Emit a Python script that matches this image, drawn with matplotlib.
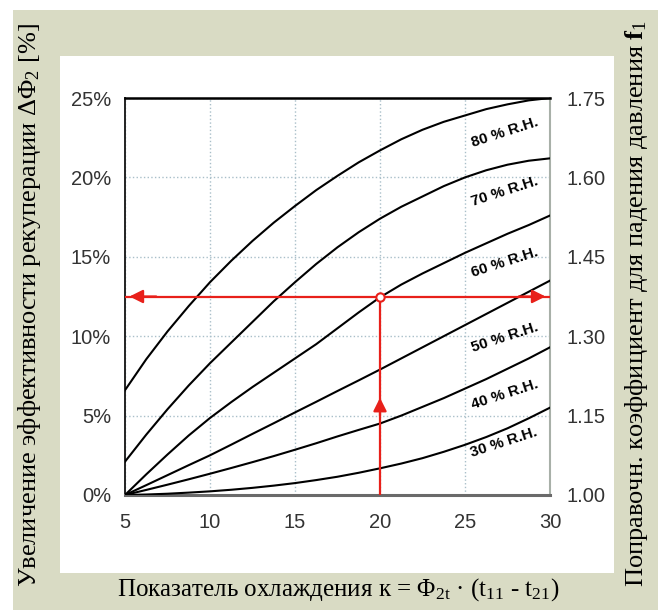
import matplotlib.pyplot as plt
from matplotlib.patches import Rectangle

# data
kappa = [5, 6.25, 7.5, 8.75, 10, 11.25, 12.5, 13.75, 15, 16.25, 17.5,
         18.75, 20, 21.25, 22.5, 23.75, 25, 26.25, 27.5, 28.75, 30]
rh80 = [6.6, 8.55, 10.3, 11.9, 13.4, 14.75, 16.0, 17.15, 18.2, 19.2, 20.1,
        20.95, 21.7, 22.4, 23.0, 23.5, 23.9, 24.3, 24.6, 24.85, 25.0]
rh70 = [2.1, 3.8, 5.4, 6.9, 8.3, 9.6, 10.9, 12.2, 13.4, 14.55, 15.6,
        16.55, 17.4, 18.15, 18.8, 19.45, 20.0, 20.45, 20.8, 21.05, 21.2]
rh60 = [0.0, 1.3, 2.55, 3.75, 4.85, 5.85, 6.8, 7.7, 8.6, 9.5, 10.5,
        11.5, 12.45, 13.25, 13.95, 14.6, 15.25, 15.85, 16.45, 17.0, 17.6]
rh50 = [0.0, 0.62, 1.25, 1.88, 2.5, 3.17, 3.85, 4.52, 5.2, 5.87, 6.55,
        7.22, 7.9, 8.6, 9.3, 10.0, 10.7, 11.4, 12.1, 12.8, 13.5]
rh40 = [0.0, 0.32, 0.65, 0.99, 1.34, 1.7, 2.07, 2.45, 2.85, 3.26, 3.69,
        4.1, 4.5, 5.0, 5.55, 6.1, 6.7, 7.3, 7.95, 8.6, 9.3]
rh30 = [0.0, 0.03, 0.08, 0.15, 0.23, 0.33, 0.45, 0.59, 0.75, 0.94, 1.15,
        1.4, 1.68, 1.98, 2.32, 2.72, 3.16, 3.65, 4.2, 4.83, 5.5]
curves = [rh80, rh70, rh60, rh50, rh40, rh30]
labels = ["80 % R.H.", "70 % R.H.", "60 % R.H.", "50 % R.H.", "40 % R.H.", "30 % R.H."]
label_x = [27.35, 27.35, 27.35, 27.35, 27.35, 27.3]
label_y = [22.8, 19.1, 14.65, 9.9, 6.3, 3.3]

xticks = [5, 10, 15, 20, 25, 30]
yticks = [0, 5, 10, 15, 20, 25]
f1_ticks = [1.00, 1.15, 1.30, 1.45, 1.60, 1.75]

# example reading
ex_x = 20
ex_y = 12.5
ex_arrow_y = 6.3

red = "#e8201a"
beige = "#d9dbc4"

plt.rcParams["mathtext.fontset"] = "custom"
plt.rcParams["mathtext.rm"] = "Liberation Serif"
plt.rcParams["mathtext.it"] = "Liberation Serif:italic"
plt.rcParams["mathtext.bf"] = "Liberation Serif:bold"

fig = plt.figure(figsize=(6.62, 6.10), dpi=100)
fig.patch.set_facecolor("white")
fig.add_artist(Rectangle((13/662, 0), 645/662, 1 - 10/610, transform=fig.transFigure,
                         facecolor=beige, edgecolor="none", zorder=-10))
fig.add_artist(Rectangle((60/662, 1 - 573/610), 554/662, 517/610, transform=fig.transFigure,
                         facecolor="white", edgecolor="none", zorder=-9))

ax = fig.add_axes([125/662, 1 - 495/610, 425/662, 397/610])
ax.set_facecolor("none")

for c in curves:
    ax.plot(kappa, c, color="black", lw=1.5, zorder=3)

for t, lx, ly in zip(labels, label_x, label_y):
    ax.text(lx, ly, t, fontsize=11, fontweight="bold", family="Liberation Sans",
            rotation=18, ha="center", va="center", zorder=4)

# red construction lines
ax.plot([ex_x, ex_x], [0, ex_y], color=red, lw=1.6, zorder=5)
ax.plot([5, 30], [ex_y, ex_y], color=red, lw=1.6, zorder=5)
ax.annotate("", xy=(5.1, ex_y), xytext=(7, ex_y),
            arrowprops=dict(arrowstyle="-|>", color=red, lw=1.6, mutation_scale=20), zorder=6)
ax.annotate("", xy=(29.9, ex_y), xytext=(28, ex_y),
            arrowprops=dict(arrowstyle="-|>", color=red, lw=1.6, mutation_scale=20), zorder=6)
ax.annotate("", xy=(ex_x, ex_arrow_y), xytext=(ex_x, ex_arrow_y - 1.5),
            arrowprops=dict(arrowstyle="-|>", color=red, lw=1.6, mutation_scale=20), zorder=6)
ax.plot([ex_x], [ex_y], marker="o", ms=6, mfc="white", mec=red, mew=1.5, zorder=7)

ax.set_xlim(5, 30)
ax.set_ylim(0, 25)
ax.set_xticks(xticks)
ax.set_yticks(yticks)
ax.set_yticklabels([f"{v}%" for v in yticks])
ax.grid(True, ls=":", color="#a9bfc9", lw=1.0, zorder=0)
ax.tick_params(length=0, labelsize=14.5, labelcolor="#333333")
ax.tick_params(axis="y", pad=10)
ax.tick_params(axis="x", pad=13)
for lab in ax.get_xticklabels() + ax.get_yticklabels():
    lab.set_family("Liberation Sans")

ax.spines["top"].set_color("black")
ax.spines["top"].set_linewidth(1.8)
ax.spines["left"].set_color("#222222")
ax.spines["left"].set_linewidth(1.4)
ax.spines["bottom"].set_color("#6a6a6a")
ax.spines["bottom"].set_linewidth(2.2)
ax.spines["right"].set_color("#a8b0a8")
ax.spines["right"].set_linewidth(1.5)

ax2 = ax.twinx()
ax2.set_ylim(1.00, 1.75)
ax2.set_yticks(f1_ticks)
ax2.set_yticklabels([f"{v:.2f}" for v in f1_ticks])
ax2.tick_params(length=0, labelsize=14.5, labelcolor="#333333", pad=12)
for lab in ax2.get_yticklabels():
    lab.set_family("Liberation Sans")
for s in ax2.spines.values():
    s.set_visible(False)

fig.text(30/662, 1 - 305/610, "Увеличение эффективности рекуперации ΔΦ$_2$ [%]",
         rotation=90, ha="center", va="center", fontsize=19, family="Liberation Serif")
fig.text(637/662, 1 - 303/610, "Поправочн. коэффициент для падения давления $\\mathbf{f}_1$",
         rotation=90, ha="center", va="center", fontsize=19, family="Liberation Serif")
fig.text(338/662, 1 - 590/610, "Показатель охлаждения к = Φ$_\\mathrm{2t}$ · (t$_\\mathrm{11}$ - t$_\\mathrm{21}$)",
         ha="center", va="center", fontsize=18, family="Liberation Serif")

fig.savefig("out.png", dpi=100)
